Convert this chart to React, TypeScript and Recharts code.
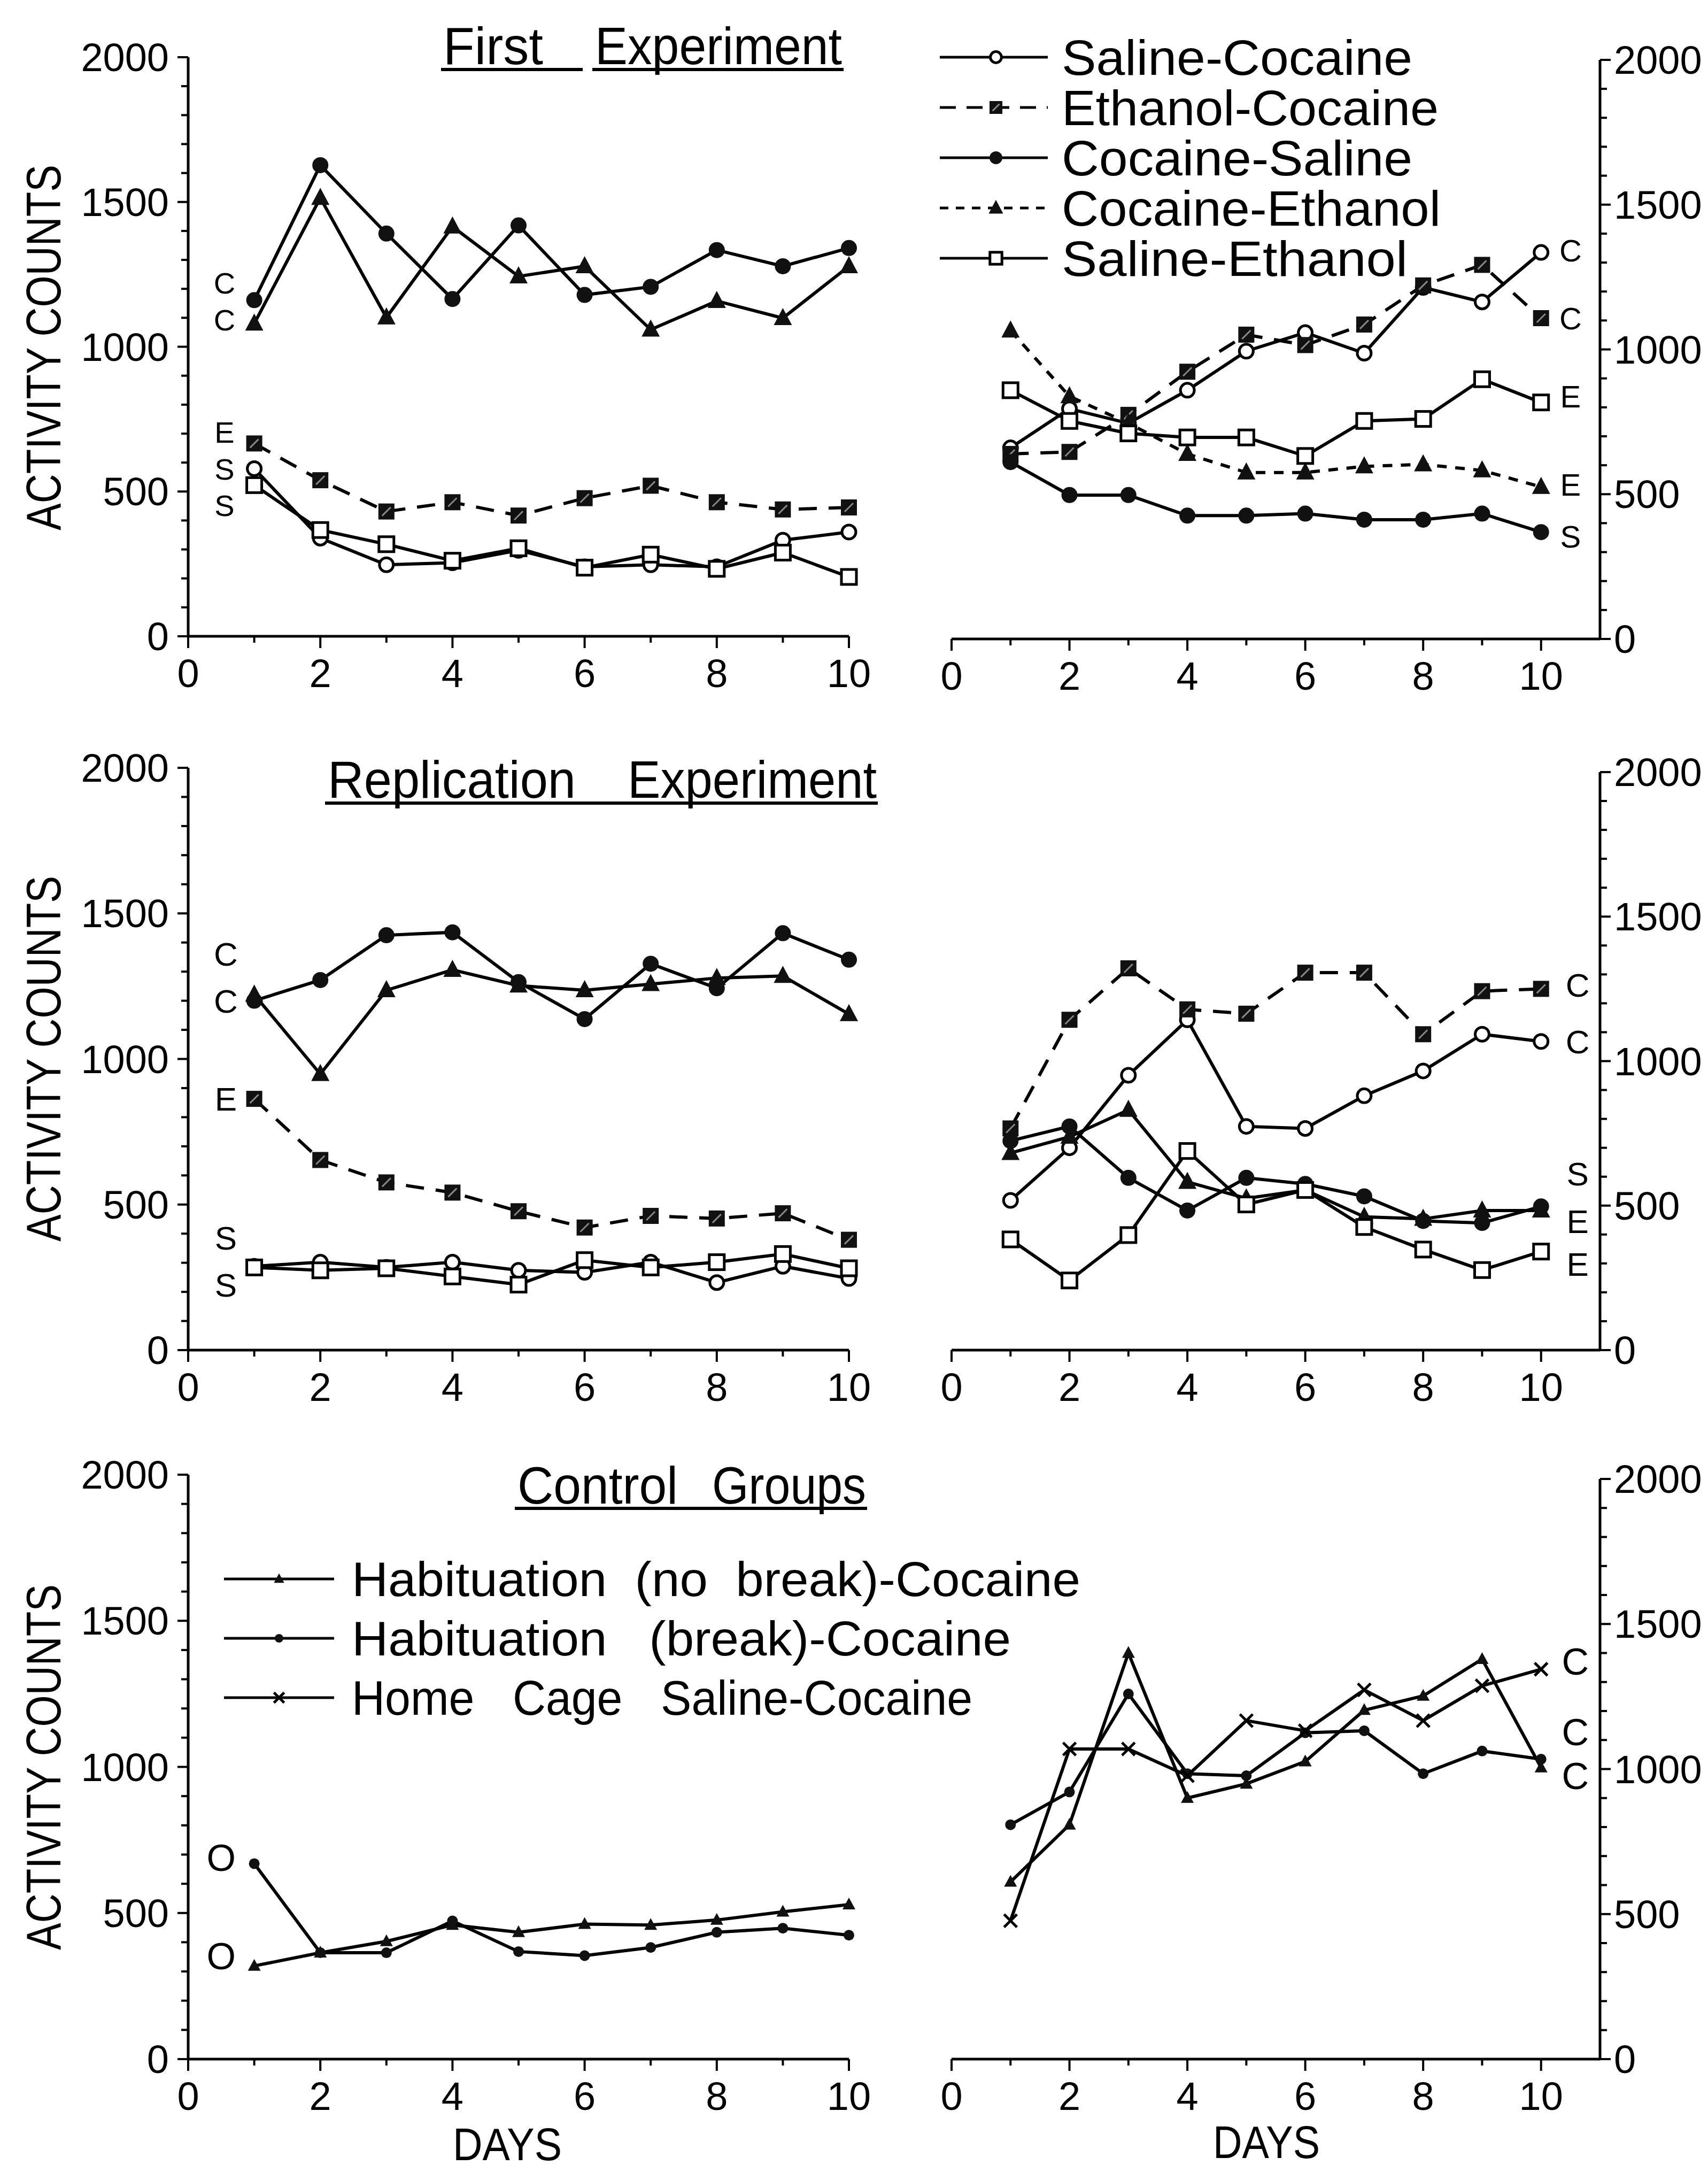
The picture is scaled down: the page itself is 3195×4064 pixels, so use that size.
import React from 'react'
import { LineChart, Line, XAxis, YAxis, Legend, ReferenceDot } from 'recharts'

const FONT = '"Liberation Sans", Arial, sans-serif'

const DAYS = [1, 2, 3, 4, 5, 6, 7, 8, 9, 10]
const X_TICKS = [0, 1, 2, 3, 4, 5, 6, 7, 8, 9, 10]
const Y_TICKS = [0, 100, 200, 300, 400, 500, 600, 700, 800, 900, 1000, 1100, 1200, 1300, 1400, 1500, 1600, 1700, 1800, 1900, 2000]

// First experiment, left half (days 1-10 of phase 1)
const FIRST_A_SAL_COC = [579, 339, 247, 254, 297, 240, 247, 240, 332, 360]
const FIRST_A_ETH_COC = [666, 539, 431, 463, 417, 477, 520, 463, 438, 445]
const FIRST_A_COC_SAL = [1161, 1627, 1391, 1165, 1419, 1179, 1207, 1334, 1278, 1341]
const FIRST_A_COC_ETH = [1080, 1514, 1101, 1415, 1243, 1278, 1059, 1158, 1099, 1278]
const FIRST_A_SAL_ETH = [522, 367, 318, 261, 304, 237, 282, 233, 289, 205]

// First experiment, right half
const FIRST_B_SAL_COC = [660, 795, 745, 859, 994, 1058, 987, 1214, 1164, 1335]
const FIRST_B_ETH_COC = [639, 646, 774, 923, 1051, 1015, 1086, 1221, 1292, 1108]
const FIRST_B_COC_SAL = [611, 497, 497, 426, 426, 433, 412, 412, 433, 369]
const FIRST_B_COC_ETH = [1065, 838, 745, 639, 575, 575, 596, 603, 582, 525]
const FIRST_B_SAL_ETH = [859, 753, 710, 696, 696, 632, 753, 760, 897, 817]

// Replication experiment
const REPL_A_SAL_COC = [288, 302, 284, 302, 274, 267, 302, 232, 288, 246]
const REPL_A_ETH_COC = [863, 653, 576, 541, 477, 421, 461, 452, 470, 379]
const REPL_A_COC_SAL = [1200, 1271, 1425, 1435, 1264, 1137, 1327, 1243, 1432, 1341]
const REPL_A_COC_ETH = [1221, 948, 1236, 1306, 1252, 1236, 1257, 1278, 1285, 1154]
const REPL_A_SAL_ETH = [284, 274, 281, 253, 225, 309, 284, 302, 330, 281]

const REPL_B_SAL_COC = [518, 700, 951, 1143, 774, 767, 880, 966, 1093, 1068]
const REPL_B_ETH_COC = [767, 1143, 1321, 1179, 1164, 1306, 1306, 1093, 1242, 1250]
const REPL_B_COC_SAL = [724, 774, 596, 483, 596, 575, 532, 447, 440, 497]
const REPL_B_COC_ETH = [682, 738, 831, 582, 525, 554, 461, 454, 483, 483]
const REPL_B_SAL_ETH = [383, 241, 398, 689, 504, 554, 426, 348, 277, 341]

// Control groups
const CTRL_A_NO_BREAK = [319, 364, 403, 459, 434, 462, 459, 476, 504, 529]
const CTRL_A_BREAK = [669, 364, 364, 473, 368, 354, 382, 434, 448, 424]
const CTRL_A_HOME = [null, null, null, null, null, null, null, null, null, null]

const CTRL_B_NO_BREAK = [611, 808, 1400, 900, 949, 1026, 1203, 1252, 1379, 1005]
const CTRL_B_BREAK = [808, 921, 1259, 984, 977, 1125, 1132, 984, 1062, 1034]
const CTRL_B_HOME = [477, 1069, 1069, 977, 1167, 1132, 1273, 1167, 1287, 1344]

// group letters written beside the curves (day, count)
const FIRST_A_TAGS = [
  { t: 'C', day: 0.55, v: 1221 }, { t: 'C', day: 0.55, v: 1094 },
  { t: 'E', day: 0.55, v: 706 }, { t: 'S', day: 0.55, v: 579 }, { t: 'S', day: 0.55, v: 452 },
]
const FIRST_B_TAGS = [
  { t: 'C', day: 10.5, v: 1342 }, { t: 'C', day: 10.5, v: 1108 },
  { t: 'E', day: 10.5, v: 838 }, { t: 'E', day: 10.5, v: 533 }, { t: 'S', day: 10.5, v: 355 },
]
const REPL_A_TAGS = [
  { t: 'C', day: 0.57, v: 1362 }, { t: 'C', day: 0.57, v: 1200 },
  { t: 'E', day: 0.57, v: 863 }, { t: 'S', day: 0.57, v: 386 }, { t: 'S', day: 0.57, v: 225 },
]
const REPL_B_TAGS = [
  { t: 'C', day: 10.62, v: 1264 }, { t: 'C', day: 10.62, v: 1068 },
  { t: 'S', day: 10.62, v: 611 }, { t: 'E', day: 10.62, v: 447 }, { t: 'E', day: 10.62, v: 298 },
]
const CTRL_A_TAGS = [{ t: 'O', day: 0.5, v: 690 }, { t: 'O', day: 0.5, v: 354 }]
const CTRL_B_TAGS = [
  { t: 'C', day: 10.58, v: 1372 }, { t: 'C', day: 10.58, v: 1128 }, { t: 'C', day: 10.58, v: 977 },
]

const AXIS = { stroke: '#000', strokeWidth: 5 }

function Marker({ kind, cx, cy, s = 1 }: any) {
  if (cx == null || cy == null) return <g />
  switch (kind) {
    case 'oc':
      return <circle cx={cx} cy={cy} r={13 * s} fill="#fff" stroke="#000" strokeWidth={5} />
    case 'fc':
      return <circle cx={cx} cy={cy} r={15 * s} fill="#111" />
    case 'fs':
      return (
        <g>
          <rect x={cx - 15 * s} y={cy - 15 * s} width={30 * s} height={30 * s} fill="#111" />
          <line x1={cx - 8 * s} y1={cy + 8 * s} x2={cx + 8 * s} y2={cy - 8 * s} stroke="#888" strokeWidth={3} />
        </g>
      )
    case 'os':
      return <rect x={cx - 14 * s} y={cy - 14 * s} width={28 * s} height={28 * s} fill="#fff" stroke="#000" strokeWidth={5} />
    case 'ft':
      return <polygon points={`${cx},${cy - 19 * s} ${cx + 17 * s},${cy + 13 * s} ${cx - 17 * s},${cy + 13 * s}`} fill="#111" />
    case 'st':
      return <polygon points={`${cx},${cy - 13 * s} ${cx + 12 * s},${cy + 9 * s} ${cx - 12 * s},${cy + 9 * s}`} fill="#111" />
    case 'sd':
      return <circle cx={cx} cy={cy} r={10 * s} fill="#111" />
    case 'x':
      return (
        <g stroke="#000" strokeWidth={5}>
          <line x1={cx - 12 * s} y1={cy - 12 * s} x2={cx + 12 * s} y2={cy + 12 * s} />
          <line x1={cx - 12 * s} y1={cy + 12 * s} x2={cx + 12 * s} y2={cy - 12 * s} />
        </g>
      )
    default:
      return <g />
  }
}

function XTick(p: any) {
  const v = p.payload?.value
  const major = v % 2 === 0
  return (
    <g>
      <line x1={p.x} x2={p.x} y1={p.y} y2={p.y + (major ? 22 : 12)} stroke="#000" strokeWidth={4} />
      {major && (
        <text x={p.x} y={p.y + 95} textAnchor="middle" fontSize={74} fontFamily={FONT} fill="#000">
          {v}
        </text>
      )}
    </g>
  )
}

function YTick(p: any) {
  const v = p.payload?.value
  const major = v % 500 === 0
  const len = major ? 20 : 13
  const dir = p.side === 'right' ? 1 : -1
  return (
    <g>
      <line x1={p.x} x2={p.x + dir * len} y1={p.y} y2={p.y} stroke="#000" strokeWidth={4} />
      {major && (
        <text
          x={p.side === 'right' ? p.x + 26 : p.x - 36}
          y={p.y + 26}
          textAnchor={p.side === 'right' ? 'start' : 'end'}
          fontSize={74}
          fontFamily={FONT}
          fill="#000"
        >
          {v}
        </text>
      )}
    </g>
  )
}

const TOP_LEGEND = [
  { key: 'salCoc', marker: 'oc', dash: undefined, w: 656 },
  { key: 'ethCoc', marker: 'fs', dash: '30 20', w: 705 },
  { key: 'cocSal', marker: 'fc', dash: undefined, w: 656 },
  { key: 'cocEth', marker: 'ft', dash: '16 14', w: 709 },
  { key: 'salEth', marker: 'os', dash: undefined, w: 647 },
]
const CTRL_LEGEND = [
  { key: 'noBreak', marker: 'st', w: 1363 },
  { key: 'brk', marker: 'sd', w: 1233 },
  { key: 'home', marker: 'x', w: 1161 },
]

function TopLegendBox(props: any) {
  const payload = props.payload || []
  return (
    <svg width={1000} height={480} style={{ overflow: 'visible', display: 'block' }}>
      {TOP_LEGEND.map((st, i) => {
        const item = payload.find((p: any) => p.dataKey === st.key)
        if (!item) return null
        const cy = 47 + i * 94
        return (
          <g key={st.key}>
            <line x1={8} x2={210} y1={cy} y2={cy} stroke="#000" strokeWidth={5} strokeDasharray={st.dash} />
            <Marker kind={st.marker} cx={113} cy={cy} s={0.8} />
            <text x={236} y={cy + 33} fontSize={92} fontFamily={FONT} textLength={st.w} lengthAdjust="spacingAndGlyphs">
              {item.value}
            </text>
          </g>
        )
      })}
    </svg>
  )
}

function CtrlLegendBox(props: any) {
  const payload = props.payload || []
  return (
    <svg width={1700} height={340} style={{ overflow: 'visible', display: 'block' }}>
      {CTRL_LEGEND.map((st, i) => {
        const item = payload.find((p: any) => p.dataKey === st.key)
        if (!item) return null
        const cy = 55 + i * 111
        return (
          <g key={st.key}>
            <line x1={8} x2={214} y1={cy} y2={cy} stroke="#000" strokeWidth={5} />
            <Marker kind={st.marker} cx={111} cy={cy} s={0.8} />
            <text
              x={247}
              y={cy + 32}
              fontSize={90}
              fontFamily={FONT}
              xmlSpace="preserve"
              style={{ whiteSpace: 'pre' }}
              textLength={st.w}
              lengthAdjust="spacingAndGlyphs"
            >
              {item.value}
            </text>
          </g>
        )
      })}
    </svg>
  )
}

type Series = { key: string; name: string; values: (number | null)[]; marker: string; dash?: string }

function Panel({ side, top, plotH, series, tags, tagSize, legend }: any) {
  const isLeft = side === 'left'
  const W = isLeft ? 1680 : 1495
  const margin = isLeft ? { top: 70, right: 92, bottom: 10, left: 100 } : { top: 70, right: 52, bottom: 10, left: 80 }
  const rows = DAYS.map((d, i) => {
    const r: any = { day: d }
    series.forEach((s: Series) => {
      r[s.key] = s.values[i]
    })
    return r
  })
  return (
    <div style={{ position: 'absolute', left: isLeft ? 0 : 1700, top: top - 70 }}>
      <LineChart width={W} height={70 + plotH + 150} data={rows} margin={margin}>
        <XAxis
          dataKey="day"
          type="number"
          domain={isLeft ? [0, 10] : [0, 11]}
          ticks={X_TICKS}
          interval={0}
          height={140}
          tickSize={0}
          tickMargin={0}
          tickLine={false}
          axisLine={AXIS}
          tick={(p: any) => <XTick {...p} />}
        />
        <YAxis
          type="number"
          domain={[0, 2000]}
          ticks={Y_TICKS}
          interval={0}
          orientation={side}
          width={isLeft ? 252 : 150}
          tickSize={0}
          tickMargin={0}
          tickLine={false}
          axisLine={AXIS}
          tick={(p: any) => <YTick {...p} side={side} />}
        />
        {series.map((s: Series) => (
          <Line
            key={s.key}
            dataKey={s.key}
            name={s.name}
            type="linear"
            stroke="#000"
            strokeWidth={6}
            strokeDasharray={s.dash}
            dot={(p: any) => <Marker key={`${s.key}-${p.index}`} kind={s.marker} cx={p.cx} cy={p.cy} />}
            activeDot={false}
            isAnimationActive={false}
          />
        ))}
        {tags.map((t: any, i: number) => (
          <ReferenceDot
            key={i}
            x={t.day}
            y={t.v}
            r={0}
            shape={(p: any) => (
              <text x={p.cx} y={p.cy + tagSize * 0.36} textAnchor="middle" fontSize={tagSize} fontFamily={FONT} fill="#000">
                {t.t}
              </text>
            )}
          />
        ))}
        {legend}
      </LineChart>
    </div>
  )
}

const expSeries = (sc: any, ec: any, cs: any, ce: any, se: any, ceDash?: string): Series[] => [
  { key: 'salCoc', name: 'Saline-Cocaine', values: sc, marker: 'oc' },
  { key: 'ethCoc', name: 'Ethanol-Cocaine', values: ec, marker: 'fs', dash: '34 22' },
  { key: 'cocSal', name: 'Cocaine-Saline', values: cs, marker: 'fc' },
  { key: 'cocEth', name: 'Cocaine-Ethanol', values: ce, marker: 'ft', dash: ceDash },
  { key: 'salEth', name: 'Saline-Ethanol', values: se, marker: 'os' },
]

const ctrlSeries = (nb: any, br: any, hc: any): Series[] => [
  { key: 'noBreak', name: 'Habituation  (no  break)-Cocaine', values: nb, marker: 'st' },
  { key: 'brk', name: 'Habituation   (break)-Cocaine', values: br, marker: 'sd' },
  { key: 'home', name: 'Home   Cage   Saline-Cocaine', values: hc, marker: 'x' },
]

function Overlay() {
  const t = { fontFamily: FONT, fill: '#000' }
  const yLab = (cy: number) => (
    <text
      transform={`translate(113,${cy}) rotate(-90)`}
      textAnchor="middle"
      fontSize={90}
      textLength={684}
      lengthAdjust="spacingAndGlyphs"
      {...t}
    >
      ACTIVITY COUNTS
    </text>
  )
  return (
    <svg width={3195} height={4064} style={{ position: 'absolute', left: 0, top: 0, pointerEvents: 'none' }}>
      <text x={829} y={120} fontSize={98} textLength={187} lengthAdjust="spacingAndGlyphs" {...t}>First</text>
      <text x={1113} y={120} fontSize={98} textLength={462} lengthAdjust="spacingAndGlyphs" {...t}>Experiment</text>
      <line x1={825} x2={1090} y1={130} y2={130} stroke="#000" strokeWidth={6} />
      <line x1={1108} x2={1578} y1={130} y2={130} stroke="#000" strokeWidth={6} />

      <text x={613} y={1492} fontSize={98} textLength={464} lengthAdjust="spacingAndGlyphs" {...t}>Replication</text>
      <text x={1174} y={1492} fontSize={98} textLength={466} lengthAdjust="spacingAndGlyphs" {...t}>Experiment</text>
      <line x1={608} x2={1642} y1={1502} y2={1502} stroke="#000" strokeWidth={6} />

      <text x={968} y={2812} fontSize={98} textLength={300} lengthAdjust="spacingAndGlyphs" {...t}>Control</text>
      <text x={1332} y={2812} fontSize={98} textLength={288} lengthAdjust="spacingAndGlyphs" {...t}>Groups</text>
      <line x1={963} x2={1622} y1={2821} y2={2821} stroke="#000" strokeWidth={6} />

      {yLab(650)}
      {yLab(1980)}
      {yLab(3305)}

      <text x={949} y={4040} textAnchor="middle" fontSize={86} textLength={204} lengthAdjust="spacingAndGlyphs" {...t}>DAYS</text>
      <text x={2369} y={4036} textAnchor="middle" fontSize={86} textLength={200} lengthAdjust="spacingAndGlyphs" {...t}>DAYS</text>
    </svg>
  )
}

export default function App() {
  return (
    <div style={{ position: 'absolute', left: 0, top: 0, width: 3195, height: 4064, background: '#fff', fontFamily: FONT }}>
      <Panel
        side="left"
        top={107}
        plotH={1083}
        series={expSeries(FIRST_A_SAL_COC, FIRST_A_ETH_COC, FIRST_A_COC_SAL, FIRST_A_COC_ETH, FIRST_A_SAL_ETH)}
        tags={FIRST_A_TAGS}
        tagSize={56}
      />
      <Panel
        side="right"
        top={112}
        plotH={1083}
        series={expSeries(FIRST_B_SAL_COC, FIRST_B_ETH_COC, FIRST_B_COC_SAL, FIRST_B_COC_ETH, FIRST_B_SAL_ETH, '18 16')}
        tags={FIRST_B_TAGS}
        tagSize={58}
        legend={
          <Legend
            layout="vertical"
            align="center"
            verticalAlign="middle"
            wrapperStyle={{ left: 50, top: 18, width: 1000, height: 480 }}
            content={(p: any) => <TopLegendBox {...p} />}
          />
        }
      />
      <Panel
        side="left"
        top={1436}
        plotH={1089}
        series={expSeries(REPL_A_SAL_COC, REPL_A_ETH_COC, REPL_A_COC_SAL, REPL_A_COC_ETH, REPL_A_SAL_ETH)}
        tags={REPL_A_TAGS}
        tagSize={62}
      />
      <Panel
        side="right"
        top={1444}
        plotH={1081}
        series={expSeries(REPL_B_SAL_COC, REPL_B_ETH_COC, REPL_B_COC_SAL, REPL_B_COC_ETH, REPL_B_SAL_ETH)}
        tags={REPL_B_TAGS}
        tagSize={62}
      />
      <Panel
        side="left"
        top={2758}
        plotH={1093}
        series={ctrlSeries(CTRL_A_NO_BREAK, CTRL_A_BREAK, CTRL_A_HOME)}
        tags={CTRL_A_TAGS}
        tagSize={70}
        legend={
          <Legend
            layout="vertical"
            align="center"
            verticalAlign="middle"
            wrapperStyle={{ left: 411, top: 210, width: 1700, height: 340 }}
            content={(p: any) => <CtrlLegendBox {...p} />}
          />
        }
      />
      <Panel
        side="right"
        top={2766}
        plotH={1085}
        series={ctrlSeries(CTRL_B_NO_BREAK, CTRL_B_BREAK, CTRL_B_HOME)}
        tags={CTRL_B_TAGS}
        tagSize={70}
      />
      <Overlay />
    </div>
  )
}
